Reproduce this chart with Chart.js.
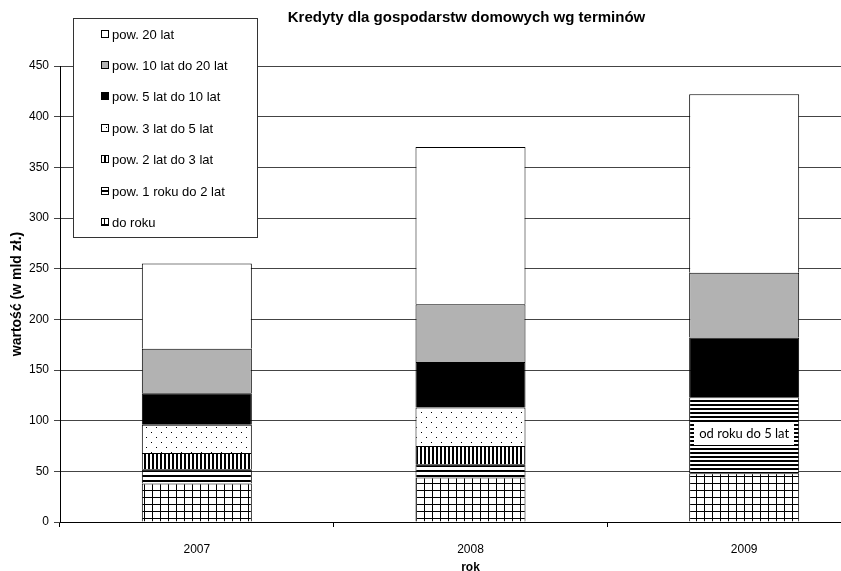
<!DOCTYPE html>
<html>
<head>
<meta charset="utf-8">
<script src="https://cdn.jsdelivr.net/npm/chart.js@4/dist/chart.umd.min.js"></script>
<style>
  html, body { margin: 0; padding: 0; background: #fff; overflow: hidden; }
  #wrap { position: relative; width: 900px; height: 571px; }
</style>
</head>
<body>
<div id="wrap"><canvas id="chart"></canvas></div>
<script>
// Household loans by maturity, values in billions of zloty
const years = ['2007', '2008', '2009'];
const doRoku    = [38, 44, 48];
const odRokuDo5 = [null, null, 75];   // 2009 reports 1-5 years as one item
const pow1do2   = [14, 13, null];
const pow2do3   = [16, 18, null];
const pow3do5   = [28, 38, null];
const pow5do10  = [31, 45, 59];
const pow10do20 = [44, 57, 64];
const pow20     = [84, 155, 176];

const yMin = 0, yMax = 450, yStep = 50;

const chartTitle = 'Kredyty dla gospodarstw domowych wg terminów';
const yTitle = 'wartość (w mld zł.)';
const xTitle = 'rok';
const mergedLabel = 'od roku do 5 lat';

Chart.defaults.font.family = '"Liberation Sans", Arial, sans-serif';
Chart.defaults.color = '#000';

const canvas = document.getElementById('chart');
const ctx = canvas.getContext('2d');

// black-and-white fill patterns
function makePattern(w, h, draw) {
  const c = document.createElement('canvas');
  c.width = w; c.height = h;
  const g = c.getContext('2d');
  g.fillStyle = '#fff';
  g.fillRect(0, 0, w, h);
  g.fillStyle = '#000';
  draw(g);
  return ctx.createPattern(c, 'repeat');
}
const patGrid = makePattern(8, 7, g => {
  g.fillRect(0, 0, 1, 7);
  g.fillRect(0, 0, 8, 1);
});
const patHStripe = makePattern(5, 5, g => g.fillRect(0, 0, 5, 2));
const patHStripeFine = makePattern(4, 4, g => g.fillRect(0, 0, 4, 2));
const patVStripe = makePattern(4, 4, g => g.fillRect(0, 0, 2, 4));
const patDots = makePattern(10, 10, g => {
  g.fillRect(1, 2, 1, 1);
  g.fillRect(6, 7, 1, 1);
});

const barStyle = {
  borderColor: '#000',
  borderWidth: 1,
  categoryPercentage: 1.0,
  barPercentage: 0.402
};

const datasets = [
  { label: 'do roku', data: doRoku, backgroundColor: patGrid, ...barStyle },
  { label: mergedLabel, data: odRokuDo5, backgroundColor: patHStripeFine, inLegend: false, ...barStyle },
  { label: 'pow. 1 roku do 2 lat', data: pow1do2, backgroundColor: patHStripe, ...barStyle },
  { label: 'pow. 2 lat do 3 lat', data: pow2do3, backgroundColor: patVStripe, ...barStyle },
  { label: 'pow. 3 lat do 5 lat', data: pow3do5, backgroundColor: patDots, ...barStyle },
  { label: 'pow. 5 lat do 10 lat', data: pow5do10, backgroundColor: '#000000', ...barStyle },
  { label: 'pow. 10 lat do 20 lat', data: pow10do20, backgroundColor: '#b2b2b2', ...barStyle },
  { label: 'pow. 20 lat', data: pow20, backgroundColor: '#ffffff', ...barStyle }
];

// title centred over the plot area
const plotTitle = {
  id: 'plotTitle',
  afterDraw(chart, args, opts) {
    const { left, right } = chart.chartArea;
    const c = chart.ctx;
    c.save();
    c.font = 'bold 15px "Liberation Sans", Arial, sans-serif';
    c.fillStyle = '#000';
    c.textAlign = 'center';
    c.textBaseline = 'alphabetic';
    c.fillText(opts.text, (left + right) / 2 + opts.dx, opts.y);
    c.restore();
  }
};

// boxed legend inside the plot, top series first
const boxLegend = {
  id: 'boxLegend',
  afterDraw(chart, args, o) {
    const c = chart.ctx;
    c.save();
    c.fillStyle = '#fff';
    c.fillRect(o.x, o.y, o.w, o.h);
    c.strokeStyle = '#333';
    c.lineWidth = 1;
    c.strokeRect(o.x + 0.5, o.y + 0.5, o.w, o.h);
    const items = chart.data.datasets.filter(d => d.inLegend !== false).slice().reverse();
    c.font = '13px "Liberation Sans", Arial, sans-serif';
    c.textBaseline = 'middle';
    c.textAlign = 'left';
    items.forEach((d, i) => {
      const cy = Math.round(o.y + o.first + i * o.step);
      const sx = o.x + o.swatchX;
      c.fillStyle = d.backgroundColor;
      c.fillRect(sx, cy - 4, 8, 8);
      c.strokeStyle = '#000';
      c.strokeRect(sx + 0.5, cy - 3.5, 7, 7);
      c.fillStyle = '#000';
      c.fillText(d.label, o.x + o.textX, cy + 1);
    });
    c.restore();
  }
};

// text box on the merged 2009 segment
const segmentLabel = {
  id: 'segmentLabel',
  afterDatasetsDraw(chart, args, o) {
    const idx = chart.data.datasets.findIndex(d => d.label === o.text);
    if (idx < 0) return;
    const meta = chart.getDatasetMeta(idx);
    const c = chart.ctx;
    meta.data.forEach((el, i) => {
      if (chart.data.datasets[idx].data[i] == null) return;
      const cx = el.x;
      const cy = (el.y + el.base) / 2 + o.dy;
      const w = el.width - 10, h = 23;
      c.save();
      c.fillStyle = '#fff';
      c.fillRect(Math.round(cx - w / 2), Math.round(cy - h / 2), w, h);
      c.font = '13px Lato, "Open Sans", sans-serif';
      c.fillStyle = '#000';
      c.textAlign = 'center';
      c.textBaseline = 'middle';
      c.fillText(o.text, cx, cy);
      c.restore();
    });
  }
};

new Chart(ctx, {
  type: 'bar',
  data: { labels: years, datasets },
  plugins: [plotTitle, boxLegend, segmentLabel],
  options: {
    responsive: true,
    maintainAspectRatio: false,
    animation: false,
    layout: { padding: { top: 66, right: 19, bottom: 0, left: 0 } },
    plugins: {
      legend: { display: false },
      tooltip: { enabled: false },
      title: { display: false },
      plotTitle: { text: chartTitle, y: 22, dx: -4 },
      boxLegend: { x: 73, y: 18, w: 184, h: 219, first: 15.5, step: 31.4, swatchX: 28, textX: 39 },
      segmentLabel: { text: mergedLabel, dy: -2 }
    },
    scales: {
      x: {
        stacked: true,
        offset: true,
        grid: { display: true, drawOnChartArea: false, tickLength: 5, color: '#000', offset: true },
        border: { color: '#000', width: 1 },
        ticks: { padding: 15, color: '#000', font: { size: 12 } },
        title: {
          display: true, text: xTitle, color: '#000',
          font: { size: 12, weight: 'bold' },
          padding: { top: 0, bottom: -4 }
        },
        afterFit(scale) { scale.height = 49; }
      },
      y: {
        stacked: true,
        min: yMin,
        max: yMax,
        ticks: { stepSize: yStep, padding: 5, color: '#000', font: { size: 12 } },
        grid: { color: '#444', tickLength: 6 },
        border: { color: '#000', width: 1 },
        title: {
          display: true, text: yTitle, color: '#000',
          font: { size: 14, weight: 'bold' },
          padding: { top: 9, bottom: 0 }
        },
        afterFit(scale) { scale.width = 60; }
      }
    }
  }
});
</script>
</body>
</html>
